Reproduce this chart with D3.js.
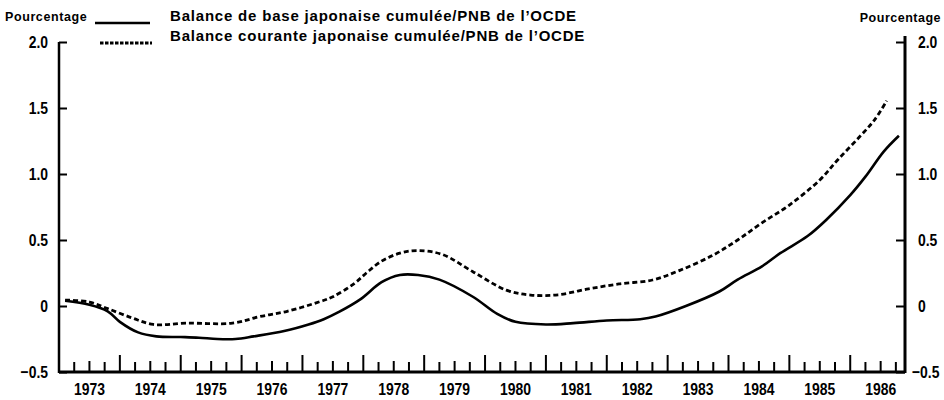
<!DOCTYPE html>
<html>
<head>
<meta charset="utf-8">
<script src="https://cdn.jsdelivr.net/npm/d3@7/dist/d3.min.js"></script>
<style>
  html, body { margin: 0; padding: 0; background: #fff; }
  svg { display: block; }
  .num { font-family: "Liberation Sans", Arial, Helvetica, sans-serif; font-weight: bold; }
  .lab { font-family: "Liberation Sans", Arial, Helvetica, sans-serif; font-weight: bold; }
</style>
</head>
<body>
<svg id="chart" width="944" height="400"></svg>
<script>
// ---------- data ----------
const years = [1973, 1974, 1975, 1976, 1977, 1978, 1979, 1980, 1981, 1982, 1983, 1984, 1985, 1986];
const yTicks = [-0.5, 0, 0.5, 1.0, 1.5, 2.0];

const baseDates = [1973.1, 1973.5, 1973.8, 1974.0, 1974.3, 1974.6, 1975.0, 1975.3, 1975.6, 1975.9,
  1976.2, 1976.7, 1977.1, 1977.35, 1977.6, 1977.95, 1978.3, 1978.6, 1978.9, 1979.25, 1979.8,
  1980.2, 1980.5, 1981.0, 1981.45, 1982.0, 1982.55, 1982.8, 1983.3, 1983.85, 1984.15,
  1984.55, 1984.85, 1985.3, 1985.6, 1986.0, 1986.25, 1986.55, 1986.8];
const baseValues = [0.04, 0.01, -0.04, -0.12, -0.20, -0.23, -0.235, -0.24, -0.25, -0.25,
  -0.23, -0.19, -0.14, -0.10, -0.045, 0.05, 0.18, 0.235, 0.235, 0.20, 0.07,
  -0.06, -0.12, -0.14, -0.13, -0.11, -0.10, -0.08, 0.00, 0.11, 0.20,
  0.30, 0.40, 0.53, 0.65, 0.84, 0.98, 1.17, 1.29];

const currentDates = [1973.1, 1973.5, 1973.8, 1974.2, 1974.55, 1975.1, 1975.85, 1976.3, 1976.75, 1977.3,
  1977.5, 1977.85, 1978.05, 1978.3, 1978.6, 1978.9, 1979.3, 1979.8, 1980.35, 1980.75, 1981.2, 1981.7,
  1982.2, 1982.75, 1983.2, 1983.75, 1984.15, 1984.55, 1985.0, 1985.5, 1985.8, 1986.15,
  1986.4, 1986.6];
const currentValues = [0.045, 0.03, -0.02, -0.09, -0.14, -0.13, -0.13, -0.08, -0.04, 0.035,
  0.07, 0.17, 0.25, 0.34, 0.40, 0.42, 0.39, 0.26, 0.12, 0.083, 0.085, 0.13,
  0.167, 0.197, 0.27, 0.386, 0.50, 0.63, 0.765, 0.955, 1.11, 1.28,
  1.41, 1.555];

const unitLabel = "Pourcentage";
const legendBase = "Balance de base japonaise cumulée/PNB de l\u2019OCDE";
const legendCurrent = "Balance courante japonaise cumulée/PNB de l\u2019OCDE";

// ---------- scales ----------
const svg = d3.select("#chart");
const x = d3.scaleLinear().domain([1973, 1986.9]).range([59, 905]);
const y = d3.scaleLinear().domain([-0.5, 2.0]).range([372, 42]);
const fmt = d => d === 0 ? "0" : (d < 0 ? "\u22120.5" : d.toFixed(1));

// horizontally condense number text (narrow bold face look)
const K = 0.82;
function condense(sel) {
  sel.each(function () {
    const t = d3.select(this);
    const xv = +t.attr("x") || 0;
    t.attr("x", xv / K).attr("transform", `scale(${K},1)`);
  });
}

// ---------- axes ----------
const left = svg.append("g").attr("transform", `translate(${x(1973)},0)`)
  .call(d3.axisLeft(y).tickValues(yTicks).tickSizeInner(-8).tickSizeOuter(0).tickPadding(11).tickFormat(fmt));
const right = svg.append("g").attr("transform", `translate(${x(1986.9)},0)`)
  .call(d3.axisRight(y).tickValues(yTicks).tickSizeInner(-9).tickSizeOuter(0).tickPadding(13).tickFormat(fmt));
[left, right].forEach(g => {
  g.select(".domain").remove();
  g.selectAll(".tick line").attr("stroke", "#000").attr("stroke-width", 2);
  g.selectAll(".tick text").attr("class", "num").attr("font-size", 17).attr("fill", "#000")
    .call(condense);
});
// bottom right label sits closer to the axis so it stays inside the frame
right.selectAll(".tick").filter(d => d < 0).select("text").attr("x", 7 / K);

// axis lines
svg.append("line").attr("x1", x(1973)).attr("x2", x(1973)).attr("y1", y(2.0)).attr("y2", y(-0.5) + 1)
  .attr("stroke", "#000").attr("stroke-width", 2.5);
svg.append("line").attr("x1", x(1986.9)).attr("x2", x(1986.9)).attr("y1", y(2.0) - 6).attr("y2", y(-0.5) + 1)
  .attr("stroke", "#000").attr("stroke-width", 3);
svg.append("line").attr("x1", x(1973)).attr("x2", x(1986.9)).attr("y1", y(-0.5)).attr("y2", y(-0.5))
  .attr("stroke", "#000").attr("stroke-width", 3);

// quarterly ticks on the time axis
const quarters = [];
years.forEach(yr => [0, 0.25, 0.5, 0.75].forEach(q => { if (yr + q > 1973) quarters.push(yr + q); }));
svg.append("g").selectAll("line").data(quarters).join("line")
  .attr("x1", d => x(d)).attr("x2", d => x(d))
  .attr("y1", y(-0.5))
  .attr("y2", d => y(-0.5) - (Number.isInteger(d) ? 17 : (d % 1 === 0.5 ? 11 : 10)))
  .attr("stroke", "#000").attr("stroke-width", 2);

// year labels
svg.append("g").selectAll("text").data(years).join("text")
  .attr("class", "num").attr("font-size", 17)
  .attr("x", d => x(d + 0.5)).attr("y", 395).attr("text-anchor", "middle")
  .text(d => d)
  .call(condense);

// ---------- lines ----------
const line = d3.line().x(d => x(d[0])).y(d => y(d[1])).curve(d3.curveCatmullRom.alpha(0.5));
svg.append("path").datum(baseDates.map((d, i) => [d, baseValues[i]]))
  .attr("d", line).attr("fill", "none").attr("stroke", "#000").attr("stroke-width", 2.6);
svg.append("path").datum(currentDates.map((d, i) => [d, currentValues[i]]))
  .attr("d", line).attr("fill", "none").attr("stroke", "#000").attr("stroke-width", 2.8)
  .attr("stroke-dasharray", "5,3");

// ---------- legend / unit labels ----------
svg.append("text").attr("class", "lab").attr("font-size", 12.5).attr("letter-spacing", 0.6)
  .attr("x", 5).attr("y", 21).text(unitLabel);
svg.append("text").attr("class", "lab").attr("font-size", 12.5).attr("letter-spacing", 0.5)
  .attr("x", 941).attr("y", 22).attr("text-anchor", "end").text(unitLabel);

svg.append("line").attr("x1", 95).attr("x2", 150).attr("y1", 23).attr("y2", 23)
  .attr("stroke", "#000").attr("stroke-width", 2.6);
svg.append("line").attr("x1", 100).attr("x2", 152).attr("y1", 43).attr("y2", 43)
  .attr("stroke", "#000").attr("stroke-width", 3).attr("stroke-dasharray", "3.5,1.5");

svg.append("text").attr("class", "lab").attr("font-size", 15).attr("letter-spacing", 0.8)
  .attr("x", 170).attr("y", 21).text(legendBase);
svg.append("text").attr("class", "lab").attr("font-size", 15).attr("letter-spacing", 0.8)
  .attr("x", 170).attr("y", 41).text(legendCurrent);
</script>
</body>
</html>
